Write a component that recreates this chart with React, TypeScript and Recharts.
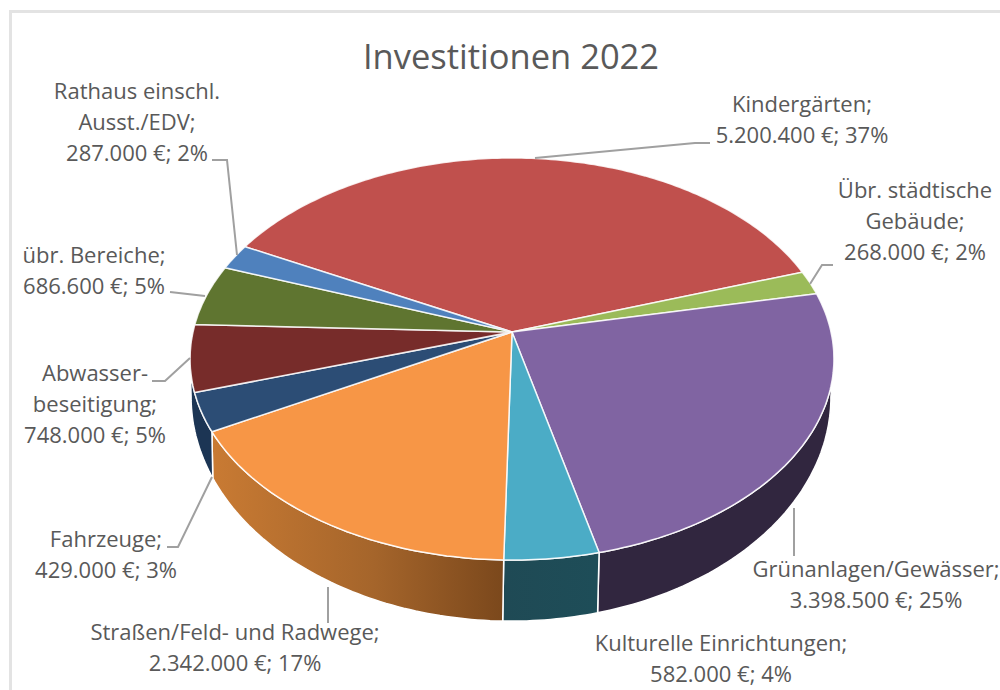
import React from 'react';
import { PieChart, Pie, Cell } from 'recharts';

const categories = [
    'Kindergärten',
    'Übr. städtische Gebäude',
    'Grünanlagen/Gewässer',
    'Kulturelle Einrichtungen',
    'Straßen/Feld- und Radwege',
    'Fahrzeuge',
    'Abwasserbeseitigung',
    'übr. Bereiche',
    'Rathaus einschl. Ausst./EDV',
];
const values = [5200400, 268000, 3398500, 582000, 2342000, 429000, 748000, 686600, 287000];
const labelTexts = [
    ['Kindergärten;', '5.200.400 €; 37%'],
    ['Übr. städtische', 'Gebäude;', '268.000 €; 2%'],
    ['Grünanlagen/Gewässer;', '3.398.500 €; 25%'],
    ['Kulturelle Einrichtungen;', '582.000 €; 4%'],
    ['Straßen/Feld- und Radwege;', '2.342.000 €; 17%'],
    ['Fahrzeuge;', '429.000 €; 3%'],
    ['Abwasser-', 'beseitigung;', '748.000 €; 5%'],
    ['übr. Bereiche;', '686.600 €; 5%'],
    ['Rathaus einschl.', 'Ausst./EDV;', '287.000 €; 2%'],
];
const topColors = ['#c0504d', '#9bbb59', '#8064a2', '#4bacc6', '#f79646', '#2c4d75', '#772c2a', '#5f7530', '#4f81bd'];
const rimColors = ['#7a3230', '#62773a', '#31263f', 'url(#rimTeal)', 'url(#rimOrange)', '#1c3554', '#4d1c1b', '#3d4b1f', '#325379'];

const data = categories.map((name, i) => ({ name, value: values[i] }));

// label layout: centre x, first baseline, leader line
const labelLayout = [
    { x: 802, y: 112, leader: '710,143 695,143 535,158' },
    { x: 915, y: 198, leader: '833,265 822,265 810,284' },
    { x: 876, y: 577, leader: '794,508 794,556' },
    { x: 721, y: 651, leader: '' },
    { x: 235, y: 640, leader: '328,587 328,623' },
    { x: 106, y: 547, leader: '167,547 178,547 212,477' },
    { x: 95, y: 381, leader: '152,381 165,381 190,358' },
    { x: 94, y: 263, leader: '170,292 205,296' },
    { x: 137, y: 99, leader: '212,160 227,160 237,255' },
];

const CX = 512;
const CY = 332;
// projection of the tilted disc, top face and bottom face
const TILT = 0.1343;
const TOP = { x: 0, y: 0, a: 319, b: 197.4 };
const BOTTOM = { x: -1, y: 35, a: 317, b: 220 };
const START_ANGLE = 152.7;
const RIM_START = 97.7;
const RIM_LIMIT = 250;
const RIM_END = 262.3;

function project(face: typeof TOP, theta: number) {
    const rad = (theta * Math.PI) / 180;
    const u = Math.sin(rad);
    const v = -Math.cos(rad);
    const d = 1 - TILT * v;
    return [CX + face.x + (face.a * u) / d, CY + face.y + (face.b * v) / d];
}

function arcPoints(face: typeof TOP, from: number, to: number) {
    const steps = Math.max(2, Math.ceil(Math.abs(to - from)));
    const pts: string[] = [];
    for (let i = 0; i <= steps; i++) {
        const p = project(face, from + ((to - from) * i) / steps);
        pts.push(`${p[0].toFixed(1)} ${p[1].toFixed(1)}`);
    }
    return pts;
}

function TopSlice(props: any) {
    const from = 90 - props.startAngle;
    const to = 90 - props.endAngle;
    const d = `M${CX} ${CY}L${arcPoints(TOP, from, to).join('L')}Z`;
    return <path d={d} fill={props.fill} stroke="#fff" strokeOpacity={0.85} strokeWidth={1.5} strokeLinejoin="round" />;
}

function RimSlice(props: any) {
    let from = 90 - props.startAngle;
    let to = 90 - props.endAngle;
    if (to <= RIM_START || from >= RIM_LIMIT) return null;
    from = Math.max(from, RIM_START);
    if (to >= RIM_LIMIT) to = RIM_END;
    const upper = arcPoints(TOP, from, to);
    const lower = arcPoints(BOTTOM, to, from);
    const d = `M${upper.join('L')}L${lower.join('L')}Z`;
    return <path d={d} fill={props.fill} stroke="#fff" strokeWidth={1.5} strokeLinejoin="round" />;
}

function SliceLabel(props: any) {
    const i = props.index;
    const layout = labelLayout[i];
    return (
        <g>
            {layout.leader && <polyline points={layout.leader} fill="none" stroke="#a0a0a0" strokeWidth={2} />}
            <text x={layout.x} y={layout.y} textAnchor="middle" fontFamily="'Open Sans', sans-serif" fontSize={22} fill="#595959">
                {labelTexts[i].map((line, n) => (
                    <tspan key={n} x={layout.x} dy={n === 0 ? 0 : 31}>
                        {line}
                    </tspan>
                ))}
            </text>
        </g>
    );
}

export default function App() {
    return (
        <div style={{ position: 'absolute', left: 0, top: 0, width: 1000, height: 690, background: '#fff', overflow: 'hidden' }}>
            <div
                style={{
                    position: 'absolute',
                    left: 9,
                    top: 10,
                    width: 1000,
                    height: 700,
                    borderLeft: '3px solid #e3e3e3',
                    borderTop: '3px solid #e3e3e3',
                }}
            />
            <div style={{ position: 'absolute', left: 0, top: 0 }}>
                <PieChart width={1000} height={690} margin={{ top: 0, right: 0, bottom: 0, left: 0 }}>
                    <defs>
                        <linearGradient id="rimOrange" gradientUnits="userSpaceOnUse" x1={215} y1={0} x2={503} y2={0}>
                            <stop offset="0%" stopColor="#c87a33" />
                            <stop offset="55%" stopColor="#a5652b" />
                            <stop offset="100%" stopColor="#7b481c" />
                        </linearGradient>
                        <linearGradient id="rimTeal" gradientUnits="userSpaceOnUse" x1={503} y1={0} x2={597} y2={0}>
                            <stop offset="0%" stopColor="#1f4a55" />
                            <stop offset="100%" stopColor="#1e4d58" />
                        </linearGradient>
                    </defs>
                    <text x={511} y={69} textAnchor="middle" fontFamily="'Open Sans', sans-serif" fontSize={34.5} fill="#595959">
                        Investitionen 2022
                    </text>
                    <Pie
                        data={data}
                        dataKey="value"
                        cx={CX}
                        cy={CY}
                        outerRadius={200}
                        startAngle={START_ANGLE}
                        endAngle={START_ANGLE - 360}
                        shape={RimSlice}
                        isAnimationActive={false}
                        labelLine={false}
                        stroke="none"
                    >
                        {data.map((d, i) => (
                            <Cell key={d.name} fill={rimColors[i]} />
                        ))}
                    </Pie>
                    <Pie
                        data={data}
                        dataKey="value"
                        cx={CX}
                        cy={CY}
                        outerRadius={200}
                        startAngle={START_ANGLE}
                        endAngle={START_ANGLE - 360}
                        shape={TopSlice}
                        isAnimationActive={false}
                        labelLine={false}
                        label={SliceLabel}
                        stroke="none"
                    >
                        {data.map((d, i) => (
                            <Cell key={d.name} fill={topColors[i]} />
                        ))}
                    </Pie>
                </PieChart>
            </div>
        </div>
    );
}
